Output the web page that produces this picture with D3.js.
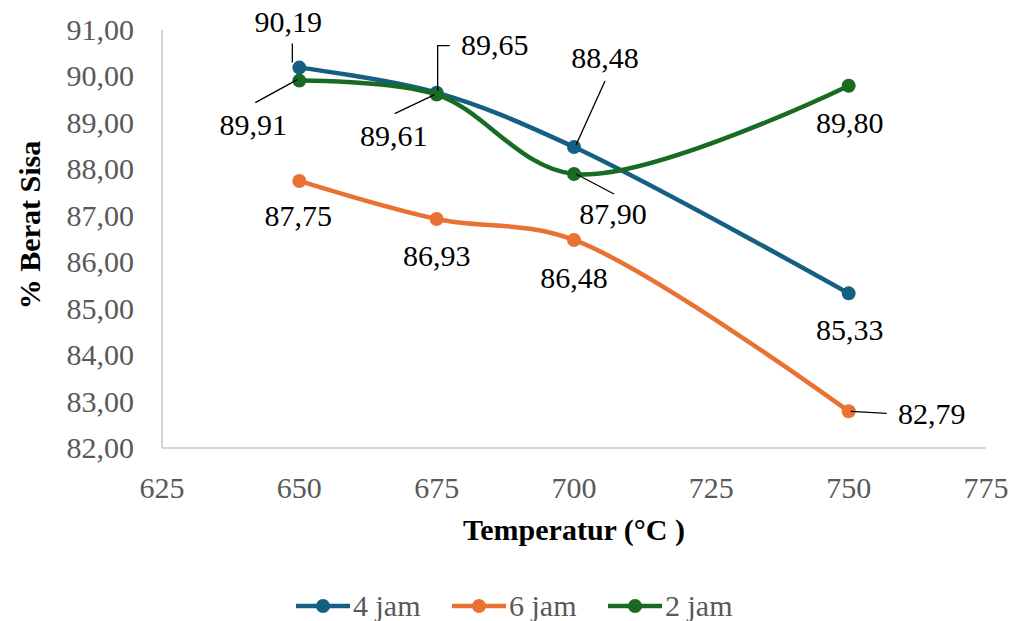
<!DOCTYPE html>
<html>
<head>
<meta charset="utf-8">
<script src="https://cdn.jsdelivr.net/npm/d3@7"></script>
<style>
  html, body { margin: 0; padding: 0; background: #fff; }
  svg { display: block; font-family: "Liberation Serif", "Times New Roman", serif; }
</style>
</head>
<body>
<svg id="chart" width="1016" height="621"></svg>
<script>
// Temperature (°C) and residual weight (%) per heating time
const temperatures = [650, 675, 700, 750];
const jam4 = [90.19, 89.65, 88.48, 85.33];
const jam6 = [87.75, 86.93, 86.48, 82.79];
const jam2 = [89.91, 89.61, 87.90, 89.80];
const seriesNames = ["4 jam", "6 jam", "2 jam"];
const xTicks = [625, 650, 675, 700, 725, 750, 775];
const yTicks = [82, 83, 84, 85, 86, 87, 88, 89, 90, 91];

const colors = ["#156082", "#E97132", "#196B24"];

// label placement: offset of label centre from its point, plus optional leader path
const labelLayout = [
  [ {dx: -11, dy: -46, leader: [[-7, -5], [-7, -24]]},
    {dx: 58,  dy: -48, leader: "elbow"},
    {dx: 31,  dy: -89, leader: [[2, -2], [31, -66]]},
    {dx: 1,   dy: 37 } ],
  [ {dx: -1,  dy: 35 },
    {dx: 0,   dy: 37 },
    {dx: 0,   dy: 38 },
    {dx: 83,  dy: 3, leader: [[2, 0], [38, 2]]} ],
  [ {dx: -46, dy: 44, leader: [[-2, -1], [-44, 22]]},
    {dx: -43, dy: 41, leader: [[-2, 0], [-42, 19]]},
    {dx: 39,  dy: 40, leader: [[2, 0], [40, 20]]},
    {dx: 1,   dy: 37 } ]
];

const svg = d3.select("#chart");
const x = d3.scaleLinear().domain([625, 775]).range([162, 986]);
const y = d3.scaleLinear().domain([82, 91]).range([448, 30]);
const fmt = v => d3.format(".2f")(v).replace(".", ",");

// axis lines
svg.append("line").attr("x1", x(625)).attr("x2", x(625)).attr("y1", y(91)).attr("y2", y(82))
  .attr("stroke", "#C8C8C8").attr("stroke-width", 1.5);
svg.append("line").attr("x1", x(625)).attr("x2", x(775)).attr("y1", y(82)).attr("y2", y(82))
  .attr("stroke", "#C8C8C8").attr("stroke-width", 1.5);

// y tick labels
svg.append("g").selectAll("text").data(yTicks).join("text")
  .attr("x", 134).attr("y", d => y(d) + 10)
  .attr("text-anchor", "end").attr("font-size", 30).attr("fill", "#595959")
  .text(d => fmt(d));

// x tick labels
svg.append("g").selectAll("text").data(xTicks).join("text")
  .attr("x", d => x(d)).attr("y", 498)
  .attr("text-anchor", "middle").attr("font-size", 30).attr("fill", "#595959")
  .text(d => d);

// axis titles
svg.append("text").attr("x", 574).attr("y", 540).attr("text-anchor", "middle")
  .attr("font-size", 30).attr("font-weight", "bold").attr("fill", "#000")
  .text("Temperatur (°C )");
svg.append("text").attr("transform", "translate(40,225) rotate(-90)")
  .attr("text-anchor", "middle").attr("font-size", 30).attr("font-weight", "bold").attr("fill", "#000")
  .text("% Berat Sisa");

const allSeries = [jam4, jam6, jam2];
const line = d3.line().x(d => x(d[0])).y(d => y(d[1])).curve(d3.curveCatmullRom.alpha(0.5));

allSeries.forEach((vals, i) => {
  const pts = temperatures.map((t, j) => [t, vals[j]]);
  const g = svg.append("g");
  g.append("path").attr("d", line(pts)).attr("fill", "none")
    .attr("stroke", colors[i]).attr("stroke-width", 4.5).attr("stroke-linecap", "round");
  g.selectAll("circle").data(pts).join("circle")
    .attr("cx", d => x(d[0])).attr("cy", d => y(d[1])).attr("r", 7)
    .attr("fill", colors[i]);
});

// data labels and leader lines
allSeries.forEach((vals, i) => {
  temperatures.forEach((t, j) => {
    const px = x(t), py = y(vals[j]);
    const L = labelLayout[i][j];
    if (L.leader === "elbow") {
      svg.append("path")
        .attr("d", `M${px + 1},${py - 2} L${px + 1},${py + L.dy + 1} L${px + 13},${py + L.dy + 1}`)
        .attr("fill", "none").attr("stroke", "#000").attr("stroke-width", 1.3);
    } else if (L.leader) {
      svg.append("line")
        .attr("x1", px + L.leader[0][0]).attr("y1", py + L.leader[0][1])
        .attr("x2", px + L.leader[1][0]).attr("y2", py + L.leader[1][1])
        .attr("stroke", "#000").attr("stroke-width", 1.3);
    }
    svg.append("text").attr("x", px + L.dx).attr("y", py + L.dy + 10)
      .attr("text-anchor", "middle").attr("font-size", 30).attr("fill", "#000")
      .text(fmt(vals[j]));
  });
});

// legend
const legendX = [296, 452, 608];
seriesNames.forEach((name, i) => {
  const lg = svg.append("g").attr("transform", `translate(${legendX[i]},606)`);
  lg.append("line").attr("x1", 0).attr("x2", 54).attr("y1", 0).attr("y2", 0)
    .attr("stroke", colors[i]).attr("stroke-width", 4.5);
  lg.append("circle").attr("cx", 27).attr("cy", 0).attr("r", 7).attr("fill", colors[i]);
  lg.append("text").attr("x", 57).attr("y", 10).attr("font-size", 30).attr("fill", "#595959").text(name);
});
</script>
</body>
</html>
